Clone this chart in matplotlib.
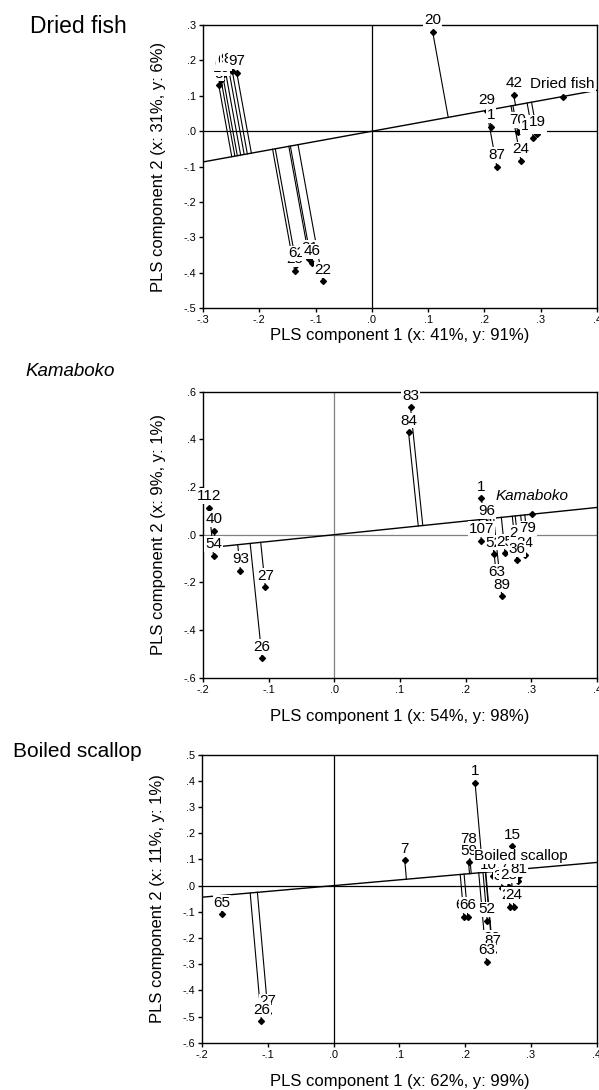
import numpy as np
import matplotlib
matplotlib.use('Agg')
import matplotlib.pyplot as plt
from matplotlib.ticker import FuncFormatter, MultipleLocator

plt.rcParams['font.family'] = ['Liberation Sans', 'DejaVu Sans']

# ---- Dried fish ----
fish_labels = ['8', '16', '69', '60', '98', '82', '97',
               '25', '62', '21', '46', '22',
               '20', '29', '1', '87', '42', '70', '102', '19', '24']
fish_x = [-0.272, -0.268, -0.265, -0.260, -0.254, -0.248, -0.240,
          -0.137, -0.134, -0.111, -0.107, -0.087,
          0.108, 0.204, 0.212, 0.222, 0.252, 0.259, 0.287, 0.294, 0.265]
fish_y = [0.130, 0.145, 0.158, 0.168, 0.172, 0.170, 0.165,
          -0.395, -0.378, -0.362, -0.372, -0.424,
          0.281, 0.056, 0.013, -0.100, 0.102, -0.001, -0.018, -0.008, -0.084]
fish_load = (0.339, 0.098)

# ---- Kamaboko ----
kama_labels = ['112', '40', '54', '93', '27', '26', '83', '84',
               '1', '96', '107', '52', '25', '29', '24', '36', '79', '63', '89']
kama_x = [-0.191, -0.183, -0.184, -0.143, -0.105, -0.110, 0.116, 0.113,
          0.224, 0.232, 0.224, 0.243, 0.260, 0.280, 0.290, 0.278, 0.294, 0.248, 0.255]
kama_y = [0.113, 0.016, -0.088, -0.151, -0.221, -0.519, 0.535, 0.430,
          0.153, 0.050, -0.025, -0.082, -0.078, -0.042, -0.084, -0.108, -0.022, -0.204, -0.258]
kama_load = (0.301, 0.086)

# ---- Boiled scallop ----
scal_labels = ['65', '27', '26', '7', '1', '78', '59', '15', '107', '77', '17',
               '36', '28', '81', '29', '24', '68', '66', '52', '89', '87', '63']
scal_x = [-0.170, -0.100, -0.110, 0.108, 0.215, 0.206, 0.205, 0.271, 0.242, 0.265, 0.282,
          0.256, 0.266, 0.281, 0.268, 0.274, 0.198, 0.204, 0.2335, 0.241, 0.242, 0.2325]
scal_y = [-0.110, -0.487, -0.518, 0.096, 0.392, 0.135, 0.089, 0.150, 0.036, 0.027, 0.038,
          -0.008, -0.004, 0.018, -0.081, -0.081, -0.118, -0.120, -0.135, -0.245, -0.255, -0.292]
scal_load = (0.285, 0.063)

panels = [
    dict(name='Dried fish', labels=fish_labels, x=fish_x, y=fish_y, load=fish_load,
         xlim=(-0.3, 0.4), ylim=(-0.5, 0.3), ystep=0.1, zero='black',
         xlabel='PLS component 1 (x: 41%, y: 91%)',
         ylabel='PLS component 2 (x: 31%, y: 6%)',
         pos=[203/599, 1-308.3/1090, 394/599, 283.3/1090],
         title_xy=(30/599, 1-33/1090), title_size=16.5, italic=False,
         xlab_off=27, load_off=14),
    dict(name='Kamaboko', labels=kama_labels, x=kama_x, y=kama_y, load=kama_load,
         xlim=(-0.2, 0.4), ylim=(-0.6, 0.6), ystep=0.2, zero='#808080',
         xlabel='PLS component 1 (x: 54%, y: 98%)',
         ylabel='PLS component 2 (x: 9%, y: 1%)',
         pos=[203/599, 1-677.7/1090, 394/599, 286/1090],
         title_xy=(25/599, 1-376/1090), title_size=13.5, italic=True,
         xlab_off=39, load_off=19),
    dict(name='Boiled scallop', labels=scal_labels, x=scal_x, y=scal_y, load=scal_load,
         xlim=(-0.2, 0.4), ylim=(-0.6, 0.5), ystep=0.1, zero='black',
         xlabel='PLS component 1 (x: 62%, y: 99%)',
         ylabel='PLS component 2 (x: 11%, y: 1%)',
         pos=[202.3/599, 1-1042.7/1090, 394.4/599, 288/1090],
         title_xy=(13/599, 1-756.7/1090), title_size=15, italic=False,
         xlab_off=39, load_off=14),
]


def tick_fmt(v, pos):
    s = '%.1f' % v
    if s == '-0.0':
        s = '0.0'
    return s.replace('0.', '.', 1)


fig = plt.figure(figsize=(5.99, 10.9), dpi=100)

for p in panels:
    ax = fig.add_axes(p['pos'])
    ax.set_xlim(*p['xlim'])
    ax.set_ylim(*p['ylim'])
    ax.xaxis.set_major_locator(MultipleLocator(0.1))
    ax.yaxis.set_major_locator(MultipleLocator(p['ystep']))
    ax.xaxis.set_major_formatter(FuncFormatter(tick_fmt))
    ax.yaxis.set_major_formatter(FuncFormatter(tick_fmt))
    ax.tick_params(direction='out', length=3, width=1, labelsize=7.8, pad=2)
    for s in ax.spines.values():
        s.set_linewidth(1)

    ax.axhline(0, color=p['zero'], lw=0.9, zorder=1)
    ax.axvline(0, color=p['zero'], lw=0.9, zorder=1)

    # loading line through origin
    lx, ly = p['load']
    slope = ly / lx
    xs = np.array(p['xlim'])
    ax.plot(xs, slope * xs, color='black', lw=1, zorder=2, clip_on=True)

    # perpendicular projection (in display space) of every point onto the line
    T = ax.transData
    o = T.transform((0, 0))
    d = T.transform((1, slope)) - o
    d = d / np.hypot(*d)
    pts = T.transform(np.column_stack([p['x'], p['y']]))
    t = (pts - o) @ d
    feet = T.inverted().transform(o + np.outer(t, d))
    for (px, py), (fx, fy) in zip(zip(p['x'], p['y']), feet):
        ax.plot([px, fx], [py, fy], color='black', lw=0.8, zorder=2)

    ax.plot(p['x'], p['y'], 'D', color='black', ms=3, zorder=3)
    ax.plot([lx], [ly], 'D', color='black', ms=3, zorder=3)

    for lab, px, py in zip(p['labels'], p['x'], p['y']):
        ax.annotate(lab, (px, py), xytext=(0, 5.5), textcoords='offset points',
                    ha='center', va='baseline', fontsize=11, zorder=4,
                    bbox=dict(boxstyle='square,pad=0.05', fc='white', ec='none'))
    ax.annotate(p['name'], (lx, ly), xytext=(0, p['load_off'] * 0.72 - 3.8),
                textcoords='offset points', ha='center', va='baseline',
                fontsize=11, zorder=5, style='italic' if p['italic'] else 'normal',
                bbox=dict(boxstyle='square,pad=0.05', fc='white', ec='none'),
                annotation_clip=False)

    ax.set_xlabel(p['xlabel'], fontsize=12, va='center')
    ax.set_ylabel(p['ylabel'], fontsize=12, va='center')
    h_px = p['pos'][3] * 1090
    ax.xaxis.set_label_coords(0.5, -p['xlab_off'] / h_px)
    ax.yaxis.set_label_coords(-45 / 394, 0.5)

    fig.text(p['title_xy'][0], p['title_xy'][1], p['name'], fontsize=p['title_size'],
             va='baseline', ha='left', style='italic' if p['italic'] else 'normal')

fig.savefig('out.png', dpi=100)
